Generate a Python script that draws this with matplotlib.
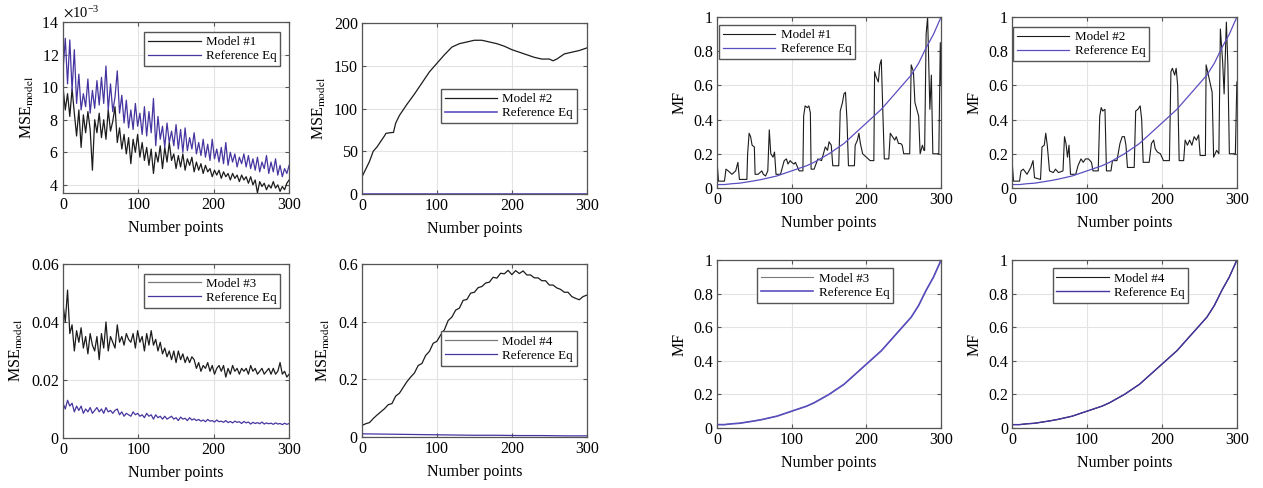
import numpy as np
import matplotlib.pyplot as plt
from matplotlib.ticker import ScalarFormatter, FuncFormatter

plt.rcParams['font.family'] = ['Liberation Serif', 'DejaVu Serif']
plt.rcParams['mathtext.fontset'] = 'stix'

# MSE panels, noisy series sampled every 3 points
x3 = np.arange(0, 301, 3)
mse1_model = [10.0, 8.6, 9.6, 8.2, 9.9, 8.4, 7.0, 8.6, 6.3, 8.3,
              7.2, 8.5, 7.4, 4.9, 8.0, 7.2, 8.4, 6.9, 8.0, 6.8,
              8.6, 7.3, 7.9, 8.8, 6.6, 7.5, 6.2, 7.1, 5.9, 6.9,
              5.3, 6.8, 6.0, 7.1, 5.7, 6.6, 5.5, 6.3, 5.2, 6.2,
              4.7, 6.0, 5.4, 6.4, 5.0, 6.3, 5.4, 6.6, 5.5, 5.9,
              5.0, 5.8, 5.1, 5.9, 4.9, 5.6, 5.2, 5.7, 4.8, 5.4,
              4.9, 5.3, 4.7, 5.2, 4.8, 5.0, 4.5, 4.9, 4.6, 4.9,
              4.4, 4.8, 4.5, 4.7, 4.3, 4.7, 4.4, 4.6, 4.2, 4.6,
              4.3, 4.5, 4.1, 4.5, 4.0, 4.3, 3.5, 4.2, 3.9, 4.1,
              3.7, 4.0, 3.8, 4.2, 3.8, 4.0, 3.6, 3.9, 3.7, 4.1,
              4.3]
mse1_ref = [11.0, 13.0, 10.2, 12.9, 9.8, 12.3, 9.0, 10.8, 8.6, 9.6,
            8.8, 10.5, 8.4, 9.8, 8.7, 10.4, 8.9, 10.6, 9.0, 11.3,
            8.6, 10.2, 8.5, 9.4, 11.0, 8.4, 9.5, 7.8, 9.2, 7.5,
            8.6, 7.4, 9.0, 7.6, 8.4, 7.1, 8.8, 7.0, 8.5, 7.2,
            9.3, 6.4, 8.2, 6.8, 7.6, 6.3, 7.8, 6.6, 7.3, 6.4,
            7.7, 6.2, 7.4, 6.0, 7.5, 6.1, 6.9, 6.2, 7.2, 5.9,
            6.6, 5.8, 6.8, 5.7, 6.5, 5.5, 6.8, 5.6, 6.2, 5.4,
            6.3, 5.3, 6.6, 5.2, 6.0, 5.4, 5.9, 5.1, 5.7, 5.3,
            5.9, 5.1, 5.8, 5.0, 5.6, 4.9, 5.7, 4.8, 5.4, 5.0,
            5.8, 4.7, 5.4, 4.8, 5.6, 4.6, 5.2, 4.5, 5.0, 4.7,
            5.2]

x2 = [0, 10, 15, 20, 30, 32, 40, 42, 45, 50, 60, 70, 80, 90, 100, 110, 120,
      130, 140, 150, 160, 170, 180, 190, 200, 210, 220, 230, 240, 250, 255,
      260, 270, 280, 290, 300]
mse2_model = [20, 38, 50, 55, 68, 71, 72, 72, 83, 92, 105, 117, 130, 143, 153,
              163, 172, 176, 178, 180, 180, 178, 176, 173, 169, 166, 163, 160,
              158, 158, 156, 158, 164, 166, 168, 171]
x2_ref = [0, 100, 200, 300]
mse2_ref = [0.01, 0.008, 0.006, 0.005]

mse3_model = [0.046, 0.040, 0.051, 0.036, 0.039, 0.030, 0.037, 0.033, 0.038, 0.031,
              0.035, 0.029, 0.036, 0.032, 0.030, 0.035, 0.027, 0.036, 0.031, 0.040,
              0.030, 0.035, 0.033, 0.031, 0.039, 0.033, 0.035, 0.032, 0.036, 0.034,
              0.033, 0.036, 0.031, 0.037, 0.033, 0.035, 0.030, 0.036, 0.032, 0.037,
              0.032, 0.034, 0.030, 0.033, 0.029, 0.031, 0.028, 0.030, 0.027, 0.030,
              0.026, 0.030, 0.027, 0.029, 0.026, 0.028, 0.026, 0.028, 0.027, 0.024,
              0.026, 0.023, 0.025, 0.024, 0.026, 0.023, 0.025, 0.022, 0.024, 0.025,
              0.023, 0.025, 0.021, 0.024, 0.022, 0.025, 0.023, 0.024, 0.022, 0.024,
              0.023, 0.024, 0.022, 0.025, 0.023, 0.024, 0.022, 0.023, 0.024, 0.022,
              0.023, 0.024, 0.022, 0.024, 0.022, 0.023, 0.026, 0.022, 0.023, 0.021,
              0.022]
mse3_ref = [0.012, 0.010, 0.013, 0.011, 0.012, 0.009, 0.011, 0.0095, 0.011, 0.0085,
            0.010, 0.009, 0.0105, 0.0085, 0.0095, 0.0105, 0.009, 0.010, 0.0085, 0.0105,
            0.009, 0.0095, 0.0085, 0.0095, 0.010, 0.008, 0.009, 0.0075, 0.0085, 0.008,
            0.0075, 0.009, 0.008, 0.0085, 0.0075, 0.008, 0.007, 0.0085, 0.0075, 0.008,
            0.0065, 0.008, 0.007, 0.0075, 0.0065, 0.0075, 0.0065, 0.007, 0.0075, 0.0065,
            0.007, 0.006, 0.0072, 0.0065, 0.0068, 0.006, 0.007, 0.0062, 0.0066, 0.006,
            0.0064, 0.0058, 0.0062, 0.0056, 0.0064, 0.0058, 0.006, 0.0055, 0.0062, 0.0056,
            0.0058, 0.0054, 0.006, 0.0053, 0.0057, 0.0052, 0.0058, 0.0054, 0.0056, 0.005,
            0.0057, 0.0052, 0.0055, 0.0048, 0.0054, 0.005, 0.0053, 0.0049, 0.0055, 0.0048,
            0.0052, 0.0049, 0.0051, 0.0047, 0.0052, 0.0048, 0.005, 0.0046, 0.0051, 0.0047,
            0.005]

x5 = np.arange(0, 301, 5)
mse4_model = [0.040, 0.046, 0.050, 0.064, 0.076, 0.087, 0.098, 0.112, 0.116, 0.142,
              0.152, 0.172, 0.192, 0.208, 0.222, 0.248, 0.255, 0.283, 0.297, 0.325,
              0.332, 0.354, 0.372, 0.404, 0.416, 0.440, 0.447, 0.474, 0.477, 0.499,
              0.502, 0.518, 0.522, 0.534, 0.537, 0.554, 0.551, 0.568, 0.566, 0.578,
              0.563, 0.577, 0.567, 0.576, 0.562, 0.562, 0.552, 0.552, 0.542, 0.542,
              0.527, 0.527, 0.517, 0.512, 0.502, 0.502, 0.487, 0.481, 0.476, 0.487,
              0.492]
x30 = np.arange(0, 301, 30)
mse4_ref = [0.011, 0.010, 0.009, 0.008, 0.007, 0.006, 0.006, 0.005, 0.005, 0.004, 0.004]

# MF panels
x10 = np.arange(0, 301, 10)
mf_ref = [0.02, 0.02, 0.025, 0.028, 0.035, 0.042, 0.05, 0.06, 0.07, 0.085, 0.1,
          0.115, 0.13, 0.15, 0.175, 0.2, 0.23, 0.26, 0.3, 0.34, 0.38, 0.42,
          0.46, 0.51, 0.56, 0.61, 0.66, 0.73, 0.82, 0.9, 1.0]

mf1_x = [0, 2, 10, 12, 15, 20, 25, 28, 30, 40, 41, 43, 45, 47, 50, 51, 55, 60,
         62, 65, 68, 70, 72, 75, 77, 79, 85, 90, 93, 95, 98, 100, 103, 105, 108,
         110, 115, 116, 118, 121, 123, 125, 126, 130, 135, 140, 145, 148, 150,
         153, 155, 163, 165, 168, 170, 172, 174, 176, 184, 185, 188, 190, 192,
         195, 200, 205, 210, 211, 213, 216, 218, 220, 222, 224, 230, 232, 235,
         238, 240, 243, 246, 248, 250, 258, 260, 263, 265, 270, 272, 275, 277,
         278, 280, 282, 285, 287, 289, 297, 299, 300]
mf1_model = [0.16, 0.04, 0.04, 0.11, 0.10, 0.08, 0.10, 0.15, 0.05, 0.05, 0.20,
             0.32, 0.30, 0.25, 0.24, 0.08, 0.08, 0.10, 0.08, 0.07, 0.10, 0.34,
             0.20, 0.18, 0.21, 0.08, 0.08, 0.16, 0.17, 0.14, 0.16, 0.15, 0.14,
             0.15, 0.12, 0.10, 0.10, 0.42, 0.48, 0.47, 0.48, 0.44, 0.11, 0.11,
             0.17, 0.16, 0.24, 0.22, 0.27, 0.25, 0.13, 0.13, 0.45, 0.50, 0.55,
             0.56, 0.40, 0.13, 0.13, 0.25, 0.28, 0.32, 0.26, 0.20, 0.18, 0.16,
             0.16, 0.68, 0.65, 0.62, 0.72, 0.75, 0.45, 0.17, 0.17, 0.32, 0.30,
             0.28, 0.30, 0.26, 0.26, 0.25, 0.20, 0.20, 0.72, 0.68, 0.50, 0.42,
             0.20, 0.25, 0.22, 0.22, 0.90, 1.00, 0.46, 0.66, 0.20, 0.20, 0.85,
             0.60]

mf2_x = [0, 2, 10, 12, 15, 20, 25, 28, 30, 38, 40, 43, 45, 47, 50, 55, 58, 62,
         68, 70, 72, 74, 76, 78, 85, 88, 92, 95, 98, 102, 106, 108, 115, 117,
         119, 121, 124, 126, 132, 134, 140, 144, 147, 150, 152, 154, 163, 165,
         168, 171, 173, 175, 183, 186, 189, 191, 194, 198, 202, 210, 212, 214,
         217, 219, 221, 223, 229, 231, 234, 237, 240, 243, 246, 249, 251, 258,
         259, 262, 265, 267, 269, 273, 276, 278, 281, 283, 286, 288, 290, 298,
         300]
mf2_model = [0.16, 0.04, 0.04, 0.10, 0.11, 0.08, 0.12, 0.16, 0.06, 0.05, 0.24,
             0.25, 0.32, 0.25, 0.10, 0.09, 0.11, 0.09, 0.10, 0.30, 0.26, 0.18,
             0.25, 0.08, 0.08, 0.13, 0.17, 0.15, 0.17, 0.17, 0.15, 0.10, 0.10,
             0.42, 0.47, 0.45, 0.46, 0.10, 0.10, 0.16, 0.16, 0.26, 0.30, 0.30,
             0.25, 0.12, 0.12, 0.45, 0.46, 0.48, 0.40, 0.15, 0.15, 0.26, 0.28,
             0.23, 0.21, 0.20, 0.16, 0.16, 0.68, 0.70, 0.66, 0.70, 0.60, 0.16,
             0.16, 0.28, 0.25, 0.28, 0.25, 0.30, 0.28, 0.31, 0.19, 0.19, 0.72,
             0.66, 0.60, 0.56, 0.18, 0.22, 0.20, 0.93, 0.74, 0.55, 0.97, 0.72,
             0.20, 0.20, 0.62]

mf3_model = mf_ref
mf4_model = mf_ref

BLACK = '#1c1c1c'
GRAY = '#7a7a7a'
PURPLE = '#4535a0'
LPURPLE = '#5a4fc0'
FRAME = '#555555'

fig = plt.figure(figsize=(12.63, 4.88), dpi=100)
gfmt = FuncFormatter(lambda v, p: '%g' % round(v, 6))


def style(ax, ylim, ylabel, yticks):
    ax.set_xlim(0, 300)
    ax.set_ylim(*ylim)
    ax.set_xticks([0, 100, 200, 300])
    ax.set_yticks(yticks)
    ax.yaxis.set_major_formatter(gfmt)
    ax.grid(True, color='#e3e3e3', linewidth=0.8)
    ax.set_axisbelow(True)
    for s in ax.spines.values():
        s.set_color(FRAME)
        s.set_linewidth(0.9)
    ax.tick_params(direction='in', length=3, top=True, right=True,
                   color=FRAME, labelsize=11.5, pad=3)
    ax.set_xlabel('Number points', fontsize=11.5, labelpad=5)
    ax.set_ylabel(ylabel, fontsize=11.5, labelpad=4)


def leg(ax, x, y):
    l = ax.legend(loc='upper left', bbox_to_anchor=(x, y), borderaxespad=0,
                  fancybox=False, framealpha=1, edgecolor=FRAME, fontsize=9.4,
                  handlelength=4.0, handletextpad=0.4, borderpad=0.3,
                  labelspacing=0.15)
    l.get_frame().set_linewidth(1.0)


mse_lab = r'MSE$_{\mathrm{model}}$'

ax1 = fig.add_axes([0.0499, 0.6045, 0.179, 0.3504])
ax1.plot(x3, np.array(mse1_model) * 1e-3, color=BLACK, lw=0.9, label='Model #1')
ax1.plot(x3, np.array(mse1_ref) * 1e-3, color=PURPLE, lw=0.9, label='Reference Eq')
style(ax1, (3.5e-3, 14e-3), mse_lab, [4e-3, 6e-3, 8e-3, 10e-3, 12e-3, 14e-3])
fmt = ScalarFormatter(useMathText=True)
fmt.set_powerlimits((-3, -3))
ax1.yaxis.set_major_formatter(fmt)
ax1.yaxis.get_offset_text().set_fontsize(10.5)
leg(ax1, 0.36, 0.94)

ax2 = fig.add_axes([0.2866, 0.6025, 0.178, 0.350])
ax2.plot(x2, mse2_model, color=BLACK, lw=0.9, label='Model #2')
ax2.plot(x2_ref, mse2_ref, color=LPURPLE, lw=1.2, label='Reference Eq')
style(ax2, (0, 200), mse_lab, [0, 50, 100, 150, 200])
leg(ax2, 0.35, 0.614)

ax3 = fig.add_axes([0.0499, 0.1025, 0.179, 0.3566])
ax3.plot(x3, mse3_model, color=BLACK, lw=0.9, label='Model #3')
ax3.plot(x3, mse3_ref, color=PURPLE, lw=0.9, label='Reference Eq')
style(ax3, (0, 0.06), mse_lab, [0, 0.02, 0.04, 0.06])
leg(ax3, 0.36, 0.943)
ax3.get_legend().legend_handles[0].set_color(GRAY)

ax4 = fig.add_axes([0.2866, 0.1045, 0.178, 0.3545])
ax4.plot(x5, mse4_model, color=BLACK, lw=0.9, label='Model #4')
ax4.plot(x30, mse4_ref, color=PURPLE, lw=0.9, label='Reference Eq')
style(ax4, (0, 0.6), mse_lab, [0, 0.2, 0.4, 0.6])
leg(ax4, 0.35, 0.61)
ax4.get_legend().legend_handles[0].set_color(GRAY)

mf_ticks = [0, 0.2, 0.4, 0.6, 0.8, 1]

ax5 = fig.add_axes([0.5677, 0.6148, 0.1774, 0.3504])
ax5.plot(mf1_x, mf1_model, color=BLACK, lw=0.8, label='Model #1')
ax5.plot(x10, mf_ref, color=LPURPLE, lw=0.9, label='Reference Eq')
style(ax5, (0, 1), 'MF', mf_ticks)
leg(ax5, 0.01, 0.953)

ax6 = fig.add_axes([0.8013, 0.6148, 0.178, 0.3504])
ax6.plot(mf2_x, mf2_model, color=BLACK, lw=0.8, label='Model #2')
ax6.plot(x10, mf_ref, color=LPURPLE, lw=0.9, label='Reference Eq')
style(ax6, (0, 1), 'MF', mf_ticks)
leg(ax6, 0.005, 0.94)

ax7 = fig.add_axes([0.5677, 0.123, 0.1774, 0.344])
ax7.plot(x10, mf3_model, color=GRAY, lw=0.8, label='Model #3')
ax7.plot(x10, mf_ref, color=LPURPLE, lw=1.2, label='Reference Eq')
style(ax7, (0, 1), 'MF', mf_ticks)
leg(ax7, 0.18, 0.95)

ax8 = fig.add_axes([0.8013, 0.123, 0.178, 0.344])
ax8.plot(x10, mf4_model, color=BLACK, lw=0.8, label='Model #4')
ax8.plot(x10, mf_ref, color=PURPLE, lw=1.0, label='Reference Eq')
style(ax8, (0, 1), 'MF', mf_ticks)
leg(ax8, 0.18, 0.95)

fig.savefig('out.png', dpi=100)
plt.close('all')
